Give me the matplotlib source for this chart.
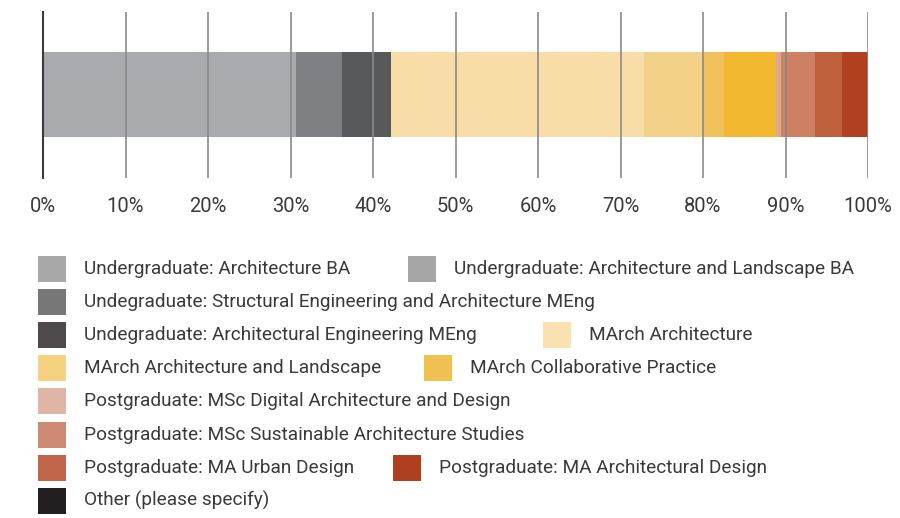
import matplotlib
matplotlib.use('Agg')
import matplotlib.pyplot as plt
from matplotlib.patches import Rectangle

plt.rcParams['font.family'] = ['Roboto', 'DejaVu Sans']

# bar segments, percent of respondents
segment_values = [30.7, 5.6, 5.9, 30.6, 7.2, 2.6, 6.3, 0.6, 4.1, 3.3, 3.1]
segment_colors = ['#a9aaad', '#7f8083', '#58595b', '#f9dda8', '#f3d087', '#f0c05a',
                  '#f1b72e', '#dca890', '#cd8062', '#bf613d', '#b04020']

legend_labels = [
    'Undergraduate: Architecture BA',
    'Undergraduate: Architecture and Landscape BA',
    'Undegraduate: Structural Engineering and Architecture MEng',
    'Undegraduate: Architectural Engineering MEng',
    'MArch Architecture',
    'MArch Architecture and Landscape',
    'MArch Collaborative Practice',
    'Postgraduate: MSc Digital Architecture and Design',
    'Postgraduate: MSc Sustainable Architecture Studies',
    'Postgraduate: MA Urban Design',
    'Postgraduate: MA Architectural Design',
    'Other (please specify)',
]
legend_colors = ['#a8a8a8', '#a5a5a5', '#777777', '#4e4a4b', '#fae2b0', '#f5d17f',
                 '#f0c150', '#e0b4a6', '#ce8a73', '#c1654b', '#b03f20', '#231f20']
# (row, swatch x in px) for each legend entry
legend_pos = [(0, 38), (0, 408), (1, 38), (2, 38), (2, 543), (3, 38), (3, 424),
              (4, 38), (5, 38), (6, 38), (6, 393), (7, 38)]
ticks = list(range(0, 101, 10))

W, H = 900, 518
fig = plt.figure(figsize=(9, 5.18), dpi=100)
ax = fig.add_axes([43 / W, 1 - 178 / H, (868 - 43) / W, (178 - 12) / H])

left = 0
for v, c in zip(segment_values, segment_colors):
    ax.barh(0.503, v, left=left, height=0.512, color=c, edgecolor='none', zorder=1)
    left += v

ax.set_xlim(0, 100)
ax.set_ylim(0, 1)
ax.set_xticks(ticks)
ax.set_xticklabels(['%d%%' % t for t in ticks], fontsize=14.5, color='#3a3a3a')
ax.tick_params(axis='x', length=0, pad=14)
ax.set_yticks([])
for t in ticks[1:]:
    ax.axvline(t, color='#8a8a8a', lw=1.2, zorder=2)
for s in ['top', 'right', 'bottom']:
    ax.spines[s].set_visible(False)
ax.spines['left'].set_color('#3a3a3a')
ax.spines['left'].set_linewidth(1.5)
ax.spines['left'].set_zorder(3)

# legend, laid out by hand in pixel coordinates
for lab, col, (row, x) in zip(legend_labels, legend_colors, legend_pos):
    yc = 269 + row * 33.1
    fig.add_artist(Rectangle((x / W, 1 - (yc + 13) / H), 28 / W, 26 / H,
                             transform=fig.transFigure, color=col, lw=0))
    fig.text((x + 46) / W, 1 - yc / H, lab, fontsize=13.7, color='#3a3a3a',
             va='center', ha='left')

fig.savefig('out.png', dpi=100)
